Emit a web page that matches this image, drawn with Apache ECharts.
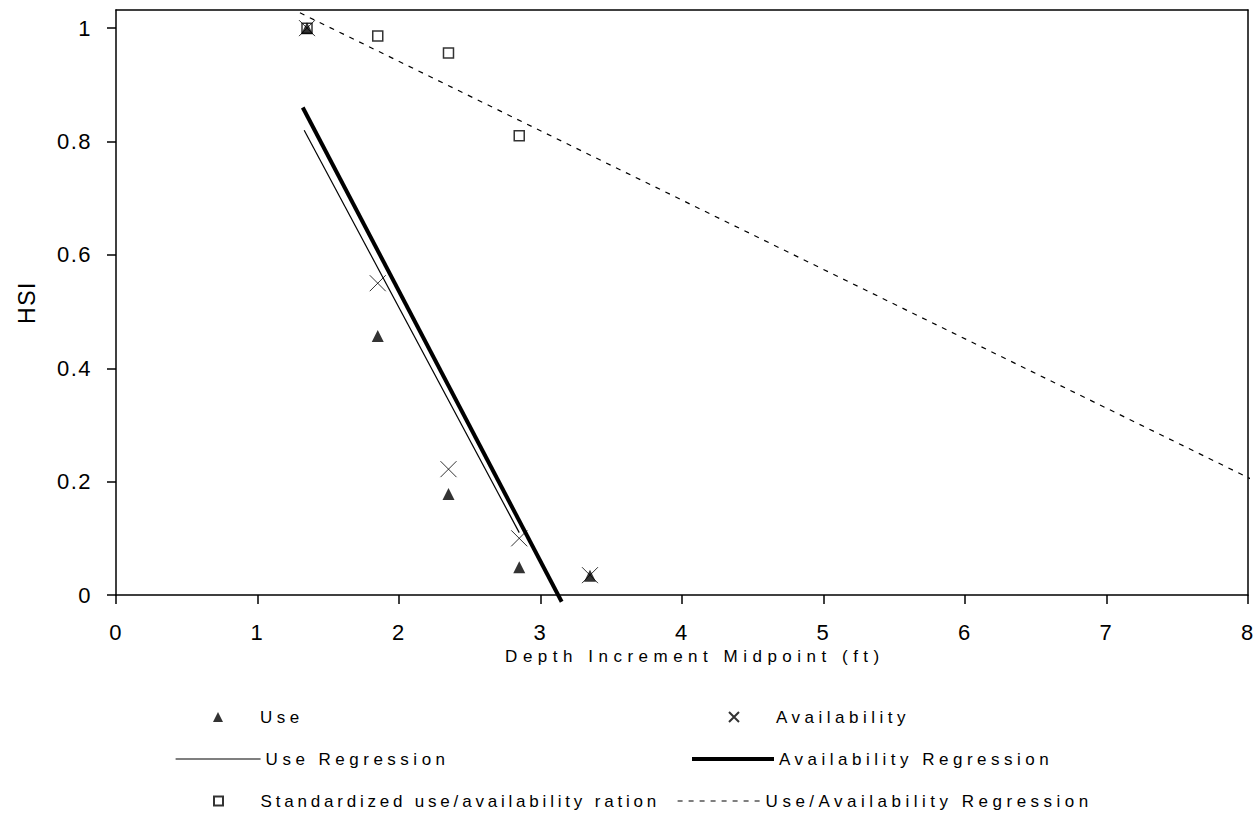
<!DOCTYPE html>
<html>
<head>
<meta charset="utf-8">
<script src="https://cdn.jsdelivr.net/npm/echarts@6/dist/echarts.min.js"></script>
<style>
html,body{margin:0;padding:0;background:#fff;}
#chart{width:1257px;height:815px;}
#chart text[style*="Arial"]{letter-spacing:4.5px;}
#chart text[style*="Verdana"]{letter-spacing:3.8px;}
#chart text[style*="Helvetica"]{letter-spacing:5.5px;}
#chart text[style*="Arimo"]{letter-spacing:1.5px;}
</style>
</head>
<body>
<div id="chart"></div>
<script>
// ---- data ----
const xTicks = [0, 1, 2, 3, 4, 5, 6, 7, 8];
const yTicks = [0, 0.2, 0.4, 0.6, 0.8, 1];
const depthX = [1.35, 1.85, 2.35, 2.85, 3.35];
const useY = [1.0, 0.457, 0.178, 0.049, 0.034];
const availX = [1.35, 1.85, 2.35, 2.85, 3.35];
const availY = [1.0, 0.55, 0.222, 0.10, 0.035];
const ratioX = [1.35, 1.85, 2.35, 2.85];
const ratioY = [1.0, 0.986, 0.956, 0.81];
const useRegX = [1.33, 2.85];
const useRegY = [0.82, 0.11];
const availRegX = [1.32, 3.15];
const availRegY = [0.86, -0.012];
const ratioRegX = [1.3, 8.06];
const ratioRegY = [1.027, 0.2];
const names = ['Use', 'Availability', 'Use Regression', 'Availability Regression',
  'Standardized use/availability ration', 'Use/Availability Regression'];

const pairs = (xs, ys) => xs.map((x, i) => [x, ys[i]]);
const tickFont = 'Liberation Sans, Arimo';
const wideFont = 'Liberation Sans, Arial';
const ratioFont = 'Liberation Sans, Verdana';
const nameFont = 'Liberation Sans, Helvetica';
const xSymbol = 'path://M0 0L10 10M10 0L0 10';
const triSymbol = 'path://M5 0L10 10L0 10Z';
const sqSymbol = 'path://M0 0L10 0L10 10L0 10Z';

const chart = echarts.init(document.getElementById('chart'), null, {renderer: 'svg'});

function legendAt(name, left, rowCenter, w, h, extra, font) {
  return Object.assign({
    data: [name], left: left, top: rowCenter - 10, padding: 0,
    itemWidth: w, itemHeight: h, selectedMode: false,
    textStyle: {fontFamily: font || wideFont, fontSize: 17, color: '#000', lineHeight: 20}
  }, extra || {});
}
const hideDot = {itemStyle: {color: 'rgba(0,0,0,0)', borderWidth: 0, borderColor: 'rgba(0,0,0,0)'}};

const option = {
  animation: false,
  backgroundColor: '#fff',
  grid: {left: 116, right: 9, top: 10, bottom: 220},
  legend: [
    legendAt(names[0], 213, 717, 74, 10),
    legendAt(names[1], 728, 717, 74, 10),
    legendAt(names[2], 175, 759, 85, 14, Object.assign({lineStyle: {width: 1.2}}, hideDot)),
    legendAt(names[3], 690, 759, 82, 14, Object.assign({lineStyle: {width: 4}}, hideDot)),
    legendAt(names[4], 213, 801, 74, 9, null, ratioFont),
    legendAt(names[5], 677, 801, 83, 14, Object.assign({lineStyle: {width: 1.2, type: [5, 6]}}, hideDot))
  ],
  xAxis: [{
    type: 'value', min: xTicks[0], max: xTicks[xTicks.length - 1], interval: 1,
    name: 'Depth Increment Midpoint (ft)', nameLocation: 'middle', nameGap: 41,
    nameTextStyle: {fontFamily: nameFont, fontSize: 17, color: '#000', padding: [0, 0, 0, 26]},
    axisLine: {show: true, onZero: false, lineStyle: {color: '#000', width: 1.5}},
    axisTick: {show: true, inside: false, length: 9, lineStyle: {color: '#000', width: 1.5}},
    axisLabel: {margin: 26, fontFamily: tickFont, fontSize: 22, color: '#000',
      formatter: v => String(v)},
    splitLine: {show: false}
  }, {
    type: 'value', position: 'top', min: 0, max: 8,
    axisLine: {show: true, onZero: false, lineStyle: {color: '#000', width: 1.5}},
    axisTick: {show: false}, axisLabel: {show: false}, splitLine: {show: false}
  }],
  yAxis: [{
    type: 'value', min: 0, max: 1.032, interval: 0.2,
    name: 'HSI', nameLocation: 'middle', nameGap: 78,
    nameTextStyle: {fontFamily: tickFont, fontSize: 23, color: '#000'},
    axisLine: {show: true, onZero: false, lineStyle: {color: '#000', width: 1.5}},
    axisTick: {show: true, inside: false, length: 9, customValues: yTicks,
      lineStyle: {color: '#000', width: 1.5}},
    axisLabel: {margin: 24, fontFamily: tickFont, fontSize: 22, color: '#000',
      customValues: yTicks,
      formatter: v => {
        const r = Math.round(v * 10) / 10;
        return yTicks.some(t => Math.abs(t - v) < 1e-6) ? String(r) : '';
      }},
    splitLine: {show: false}
  }, {
    type: 'value', position: 'right', min: 0, max: 1.032,
    axisLine: {show: true, onZero: false, lineStyle: {color: '#000', width: 1.5}},
    axisTick: {show: false}, axisLabel: {show: false}, splitLine: {show: false}
  }],
  series: [
    {
      name: names[5], type: 'line', data: pairs(ratioRegX, ratioRegY),
      symbol: 'none', clip: false, z: 2,
      lineStyle: {color: '#000', width: 1.2, type: [5, 6]}, itemStyle: {color: '#000'}
    },
    {
      name: names[2], type: 'line', data: pairs(useRegX, useRegY),
      symbol: 'none', clip: false, z: 2,
      lineStyle: {color: '#000', width: 1.2}, itemStyle: {color: '#000'}
    },
    {
      name: names[3], type: 'line', data: pairs(availRegX, availRegY),
      symbol: 'none', clip: false, z: 2,
      lineStyle: {color: '#000', width: 4}, itemStyle: {color: '#000'}
    },
    {
      name: names[4], type: 'scatter', data: pairs(ratioX, ratioY),
      symbol: sqSymbol, symbolSize: 10, z: 3,
      itemStyle: {color: '#fff', borderColor: '#000', borderWidth: 1.5}
    },
    {
      name: names[1], type: 'scatter', data: pairs(availX, availY),
      symbol: xSymbol, symbolSize: 16, z: 4,
      itemStyle: {color: 'rgba(0,0,0,0)', borderColor: '#000', borderWidth: 1}
    },
    {
      name: names[0], type: 'scatter', data: pairs(depthX, useY),
      symbol: triSymbol, symbolSize: 12, z: 5,
      itemStyle: {color: '#000'}
    }
  ]
};
chart.setOption(option);
</script>
</body>
</html>
